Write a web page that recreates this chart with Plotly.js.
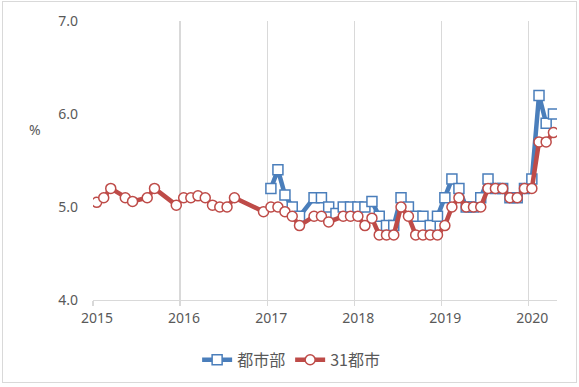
<!DOCTYPE html>
<html>
<head>
<meta charset="utf-8">
<script src="https://cdn.plot.ly/plotly-3.0.1.min.js"></script>
<style>
  html, body { margin: 0; padding: 0; background: #fff; }
  #wrap { position: relative; width: 579px; height: 387px; }
  #chart { width: 579px; height: 387px; }
  #frame { position: absolute; left: 2px; top: 1px; width: 573px; height: 380px; border: 1px solid #d9d9d9; pointer-events: none; }
</style>
</head>
<body>
<div id="wrap"><div id="chart"></div><div id="frame"></div></div>
<script>
// 都市部 (national urban surveyed unemployment rate, %)
const urbanMonths = [
  '2017-01','2017-02','2017-03','2017-04','2017-05','2017-07','2017-08','2017-09','2017-10','2017-11','2017-12',
  '2018-01','2018-02','2018-03','2018-04','2018-05','2018-06','2018-07','2018-08','2018-09','2018-10','2018-11','2018-12',
  '2019-01','2019-02','2019-03','2019-04','2019-05','2019-06','2019-07','2019-08','2019-09','2019-10','2019-11','2019-12',
  '2020-01','2020-02','2020-03','2020-04'
];
const urbanValues = [
  5.2,5.4,5.13,5.0,4.9,5.1,5.1,5.0,4.93,5.0,5.0,
  5.0,5.0,5.06,4.9,4.8,4.8,5.1,5.0,4.9,4.9,4.8,4.9,
  5.1,5.3,5.2,5.0,5.0,5.1,5.3,5.2,5.2,5.1,5.1,5.2,
  5.3,6.2,5.9,6.0
];

// 31都市 (31 major cities surveyed unemployment rate, %)
const cityMonths = [
  '2015-01','2015-02','2015-03','2015-05','2015-06','2015-08','2015-09','2015-12',
  '2016-01','2016-02','2016-03','2016-04','2016-05','2016-06','2016-07','2016-08','2016-12',
  '2017-01','2017-02','2017-03','2017-04','2017-05','2017-07','2017-08','2017-09','2017-11','2017-12',
  '2018-01','2018-02','2018-03','2018-04','2018-05','2018-06','2018-07','2018-08','2018-09','2018-10','2018-11','2018-12',
  '2019-01','2019-02','2019-03','2019-04','2019-05','2019-06','2019-07','2019-08','2019-09','2019-10','2019-11','2019-12',
  '2020-01','2020-02','2020-03','2020-04'
];
const cityValues = [
  5.05,5.1,5.2,5.1,5.06,5.1,5.2,5.02,
  5.1,5.1,5.12,5.1,5.02,5.0,5.0,5.1,4.95,
  5.0,5.0,4.95,4.9,4.8,4.9,4.9,4.84,4.9,4.9,
  4.9,4.8,4.88,4.7,4.7,4.7,5.0,4.9,4.7,4.7,4.7,4.7,
  4.8,5.0,5.1,5.0,5.0,5.0,5.2,5.2,5.2,5.1,5.1,5.2,
  5.2,5.7,5.7,5.8
];

const yearTicks = ['2015-01-01','2016-01-01','2017-01-01','2018-01-01','2019-01-01','2020-01-01'];
const yearLabels = ['2015','2016','2017','2018','2019','2020'];
const yTicks = [4.0, 5.0, 6.0, 7.0];
const yLabels = ['4.0','5.0','6.0','7.0'];
const seriesNames = ['都市部','31都市'];

const blue = '#4a7ebb';
const red = '#be4b48';

const traces = [
  {
    x: urbanMonths, y: urbanValues, name: seriesNames[0],
    type: 'scatter', mode: 'lines+markers',
    xperiod: 'M1', xperiodalignment: 'middle',
    line: { color: blue, width: 4.5 },
    marker: { symbol: 'square', size: 10, color: '#ffffff', line: { color: blue, width: 1.5 } }
  },
  {
    x: cityMonths, y: cityValues, name: seriesNames[1],
    type: 'scatter', mode: 'lines+markers',
    xperiod: 'M1', xperiodalignment: 'middle',
    line: { color: red, width: 4.5 },
    marker: { symbol: 'circle', size: 10, color: '#ffffff', line: { color: red, width: 1.5 } }
  }
];

const tickFont = { family: 'Noto Sans, Open Sans, sans-serif', size: 14, color: '#595959' };

const layout = {
  width: 579, height: 387,
  margin: { l: 93, r: 22, t: 21, b: 86 },
  paper_bgcolor: '#ffffff', plot_bgcolor: '#ffffff',
  showlegend: true,
  legend: {
    orientation: 'h', x: 0.427, xanchor: 'center', y: -0.21, yanchor: 'middle',
    font: { family: 'Noto Sans CJK JP, sans-serif', size: 16, color: '#595959' },
    itemwidth: 30, tracegroupgap: 0
  },
  xaxis: {
    type: 'date',
    range: ['2015-01-01', '2020-05-01'],
    tickmode: 'array', tickvals: yearTicks, ticktext: yearLabels,
    showgrid: true, gridcolor: '#d9d9d9', gridwidth: 1.3,
    showline: true, linecolor: '#d9d9d9', linewidth: 1.3,
    ticks: 'outside', ticklen: 5, tickcolor: '#d9d9d9', tickwidth: 1.3,
    ticklabelshift: 4,
    tickfont: tickFont, zeroline: false
  },
  yaxis: {
    range: [4.0, 7.0],
    tickmode: 'array', tickvals: yTicks, ticktext: yLabels,
    showgrid: false, showline: false, zeroline: false,
    ticks: '', ticklabelstandoff: 14,
    tickfont: tickFont
  },
  annotations: [{
    text: '%', xref: 'paper', yref: 'paper', x: -0.125, y: 0.61,
    xanchor: 'center', yanchor: 'middle',
    showarrow: false, font: { family: 'Noto Sans, sans-serif', size: 14, color: '#595959' }
  }]
};

Plotly.newPlot('chart', traces, layout, { displayModeBar: false, staticPlot: true });
</script>
</body>
</html>
